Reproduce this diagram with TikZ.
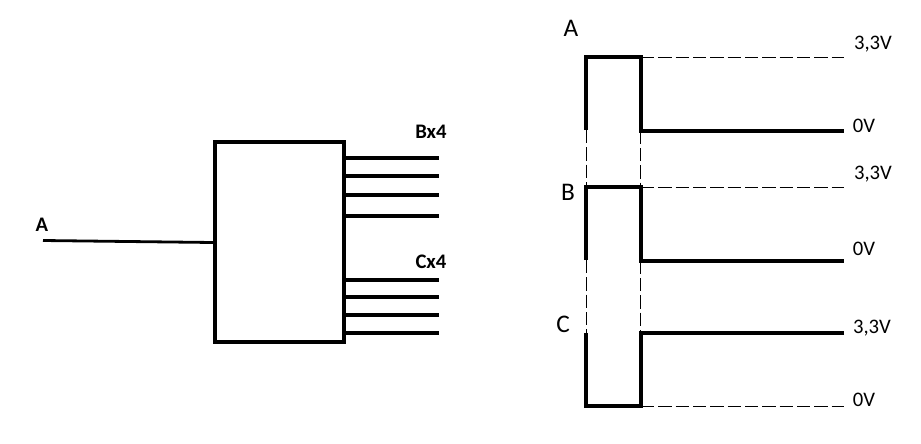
\documentclass[tikz,border=0pt]{standalone}
\usepackage{fontspec}
\setmainfont{Carlito}
\usetikzlibrary{positioning}
\tikzset{x=0.75pt, y=-0.75pt}
\tikzset{wire/.style={line width=2.8pt}}
\tikzset{pulse/.style={line width=3pt, line cap=butt}}
\tikzset{guide/.style={line width=0.6pt, dash pattern=on 10pt off 3pt}}
\tikzset{levellabel/.style={font=\fontsize{15.5}{17}\selectfont, inner sep=0pt}}
\tikzset{signallabel/.style={font=\fontsize{19}{21}\selectfont, inner sep=0pt}}
\tikzset{portlabel/.style={font=\fontsize{15.5}{17}\selectfont\bfseries, inner sep=0pt}}
\begin{document}
\begin{tikzpicture}
        \useasboundingbox (0, 0) rectangle (921, 443); %
        % block with its input and outputs
        \node[draw, line width=3pt, minimum width=96.75pt, minimum height=150pt,
        inner sep=0pt] (ctrl) at (279.5, 242) {}; %
        \coordinate (ain) at (43, 240.5); %
        \draw[line width=2.1pt] (ain) -- (ctrl.west |- 0, 242.5); %
        \node[portlabel] (alabel) at (42, 225) {A}; %
        \foreach \y in {158, 176, 195, 216, 280, 297, 315, 333} {
          \coordinate (out\y) at (439, \y); %
          \draw[wire] (ctrl.east |- out\y) -- (out\y); %
        }
        \node[portlabel] (blabel) at (431, 132) {Bx4}; %
        \node[portlabel] (clabel) at (431, 262) {Cx4}; %
        % levels
        \coordinate (ahigh) at (586, 57); %
        \coordinate (afall) at (641, 57); %
        \coordinate (aleft) at (586, 130); %
        \coordinate (aright) at (641, 130.7); %
        \coordinate (aend) at (844, 130.7); %
        \coordinate (atop) at (844, 57); %
        \coordinate (bhigh) at (586, 187); %
        \coordinate (bfall) at (641, 187); %
        \coordinate (bleft) at (586, 260); %
        \coordinate (bright) at (641, 260.7); %
        \coordinate (bend) at (844, 260.7); %
        \coordinate (btop) at (844, 187); %
        \coordinate (cleft) at (586, 333); %
        \coordinate (cright) at (641, 333); %
        \coordinate (cend) at (844, 333); %
        \coordinate (clow) at (586, 406); %
        \coordinate (crise) at (641, 406); %
        \coordinate (cbot) at (844, 406); %
        % guides first
        \draw[guide] (afall) -- (atop); %
        \draw[guide] (bfall) -- (btop); %
        \draw[guide] (crise) -- (cbot); %
        \draw[guide] (aleft) -- (bhigh); %
        \draw[guide] ([xshift=-0.75pt]aright) -- ([xshift=-0.75pt]bfall); %
        \draw[guide] (bleft) -- (cleft); %
        \draw[guide] ([xshift=-0.75pt]bright) -- ([xshift=-0.75pt]cright); %
        % pulses
        \draw[pulse] (aleft) -- (ahigh) -- (afall) -- (aright) -- (aend); %
        \draw[pulse] (bleft) -- (bhigh) -- (bfall) -- (bright) -- (bend); %
        \draw[pulse] (cend) -- (cright) -- (crise) -- (clow) -- (cleft); %
        \node[signallabel] (sigA) at (571, 28) {A}; %
        \node[signallabel] (sigB) at (568, 192) {B}; %
        \node[signallabel] (sigC) at (563, 324) {C}; %
        \node[levellabel] (vA) at (873, 44) {3,3V}; %
        \node[levellabel] (gA) at (864, 126) {0V}; %
        \node[levellabel] (vB) at (873, 174) {3,3V}; %
        \node[levellabel] (gB) at (864, 249) {0V}; %
        \node[levellabel] (vC) at (872, 328) {3,3V}; %
        \node[levellabel] (gC) at (864, 400) {0V}; %
\end{tikzpicture}
\end{document}
